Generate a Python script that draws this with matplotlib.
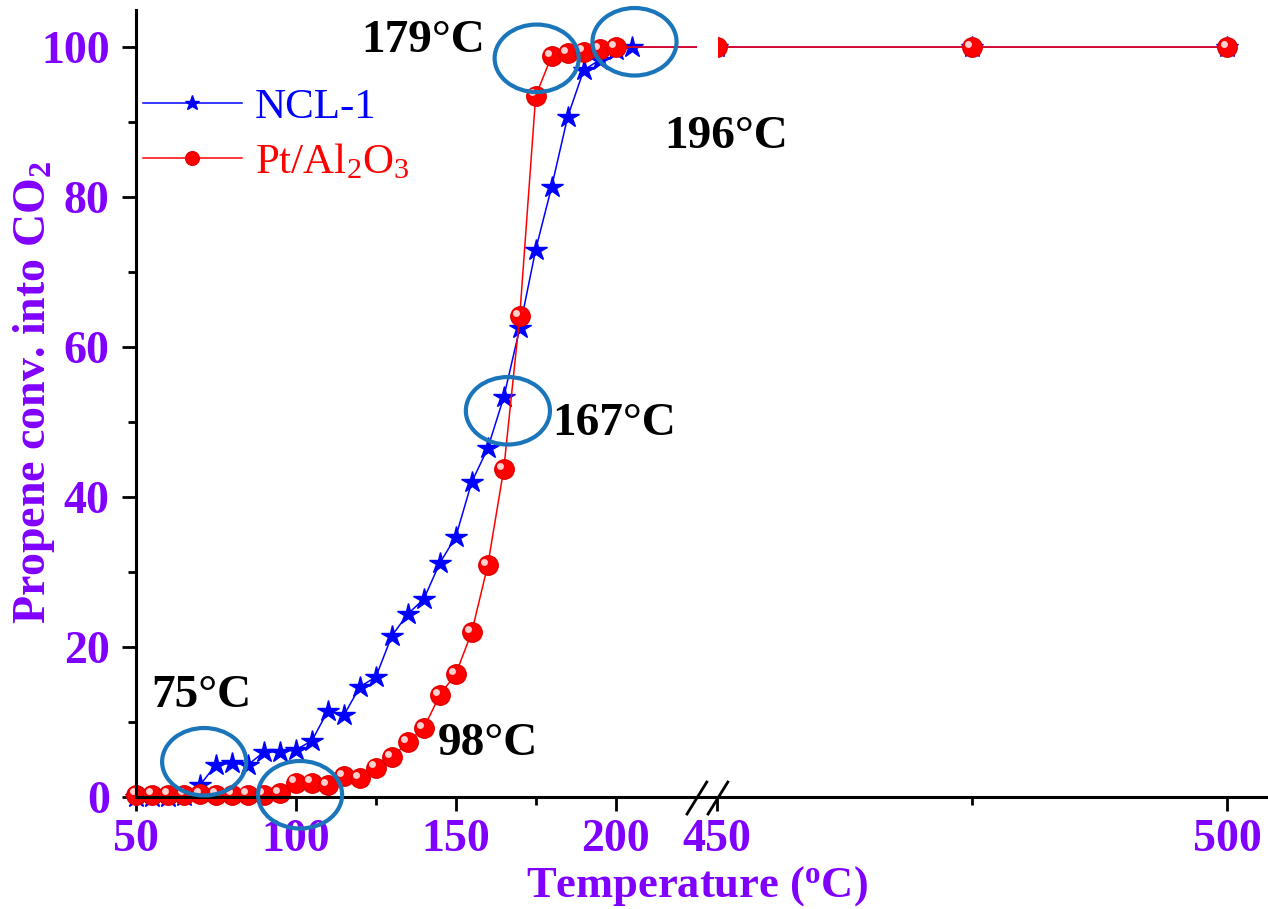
import numpy as np
import matplotlib
matplotlib.use('Agg')
import matplotlib.pyplot as plt
from matplotlib.patches import Ellipse
from matplotlib.transforms import ScaledTranslation

plt.rcParams['font.family'] = 'Liberation Serif'
plt.rcParams['mathtext.fontset'] = 'custom'
plt.rcParams['mathtext.rm'] = 'Liberation Serif'
plt.rcParams['mathtext.bf'] = 'Liberation Serif:bold'
plt.rcParams['mathtext.it'] = 'Liberation Serif:italic'

# data
temp_ncl = [50, 55, 60, 65, 70, 75, 80, 85, 90, 95, 100, 105, 110, 115, 120, 125,
            130, 135, 140, 145, 150, 155, 160, 165, 170, 175, 180, 185, 190, 195,
            200, 205, 450, 475, 500]
conv_ncl = [0, 0, 0, 0.2, 1.6, 4.3, 4.5, 4.3, 6.0, 6.0, 6.3, 7.5, 11.5, 10.9, 14.7, 16.0,
            21.5, 24.4, 26.4, 31.2, 34.7, 42.0, 46.5, 53.3, 62.5, 73.0, 81.4, 90.7, 96.9, 98.3,
            99.6, 100, 100, 100, 100]

temp_pt = [50, 55, 60, 65, 70, 75, 80, 85, 90, 95, 100, 105, 110, 115, 120, 125,
           130, 135, 140, 145, 150, 155, 160, 165, 170, 175, 180, 185, 190, 195,
           200, 450, 475, 500]
conv_pt = [0.3, 0.3, 0.3, 0.3, 0.4, 0.3, 0.3, 0.3, 0.3, 0.5, 1.9, 1.9, 1.6, 2.8, 2.5, 3.9,
           5.3, 7.3, 9.2, 13.6, 16.4, 22.0, 30.9, 43.7, 64.1, 93.5, 98.8, 99.2, 99.4, 99.7,
           100, 100, 100, 100]

# highlighted temperatures (label text, label x, label baseline y)
mark_labels = ['75°C', '98°C', '167°C', '179°C', '196°C']
mark_text_x = [70.3, 160.0, 199.4, 139.7, 450.9]
mark_text_y = [12.0, 5.6, 48.3, 99.3, 86.5]
ring_x = [71.3, 101.3, 166.3, 175.3, 205.9]
ring_y = [4.7, 0.3, 51.5, 98.5, 100.7]

purple = '#8000ff'
ring_col = '#1a75bb'

# broken x axis: 50-226 then 448-504
brk_x = [0, 226.0, 448.3, 1000]
brk_f = [0, 226.0, 231.56 + (448.3 - 450) * 3.194, 231.56 + 550 * 3.194]


def fwd(t):
    return np.interp(t, brk_x, brk_f)


def inv(f):
    return np.interp(f, brk_f, brk_x)


fig = plt.figure(figsize=(12.68, 9.09), dpi=100)
ax = fig.add_axes([0.1073, 0.1232, 0.8927, 0.8663])
ax.set_xscale('function', functions=(fwd, inv))

ax.plot(temp_ncl, conv_ncl, color='blue', lw=1.1, marker='*', ms=16,
        mec='blue', mfc='blue', clip_on=False, zorder=2, label='NCL-1')
ax.plot(temp_pt, conv_pt, color='red', lw=1.1, marker='o', ms=14,
        mec='#e00000', mfc='red', clip_on=False, zorder=2.1, label='Pt/Al$_2$O$_3$')
shine = ax.transData + ScaledTranslation(-2.5 / 72, 2.5 / 72, fig.dpi_scale_trans)
ax.plot(temp_pt, conv_pt, ls='none', marker='o', ms=5, mfc='#ffd0d0', mew=0,
        transform=shine, clip_on=False, zorder=2.2)

# white gap at the axis break
ax.axvspan(225.3, 450.1, ymin=0.004, ymax=1, color='white', lw=0, zorder=2.3)

ax.set_xlim(50, 504)
ax.set_ylim(0, 105)

for sp in ['top', 'right']:
    ax.spines[sp].set_visible(False)
for sp in ['left', 'bottom']:
    ax.spines[sp].set_linewidth(2.2)

ax.set_xticks([50, 100, 150, 200, 450, 500])
ax.set_xticks([75, 125, 175, 475], minor=True)
ax.set_yticks([0, 20, 40, 60, 80, 100])
ax.set_yticks([10, 30, 50, 70, 90], minor=True)
ax.tick_params(which='major', length=10, width=2, labelsize=33, labelcolor=purple)
ax.tick_params(axis='x', which='major', pad=6)
ax.tick_params(axis='y', which='major', pad=9)
ax.tick_params(which='minor', length=5.5, width=2)
for lab in ax.get_xticklabels() + ax.get_yticklabels():
    lab.set_fontweight('bold')

ax.set_xlabel('Temperature ($^\\mathbf{o}$C)', fontsize=32, fontweight='bold', color=purple)
ax.set_ylabel('Propene conv. into CO$_\\mathbf{2}$', fontsize=33, fontweight='bold', color=purple)
ax.xaxis.set_label_coords(0.4956, -0.085)
ax.yaxis.set_label_coords(-0.07, 0.514)

# break marks
for x0 in [0.4867, 0.5053]:
    ax.plot([x0, x0 + 0.0175], [-0.0216, 0.019], color='black', lw=2,
            transform=ax.transAxes, clip_on=False, zorder=5)

for x, y in zip(ring_x, ring_y):
    ax.add_patch(Ellipse((x, y), 26.3, 9.0, fill=False, ec=ring_col, lw=3,
                         clip_on=False, zorder=6))

for s, x, y in zip(mark_labels, mark_text_x, mark_text_y):
    ax.text(x, y, s, fontsize=34, fontweight='bold', ha='center', va='baseline',
            color='black', zorder=7)

ax.legend(loc='upper left', bbox_to_anchor=(0.006, 0.9), frameon=False, fontsize=31,
          handlelength=2.3, handletextpad=0.3, labelspacing=0.35, borderpad=0,
          borderaxespad=0, labelcolor='linecolor', markerscale=0.7)

fig.savefig('out.png', dpi=100)
